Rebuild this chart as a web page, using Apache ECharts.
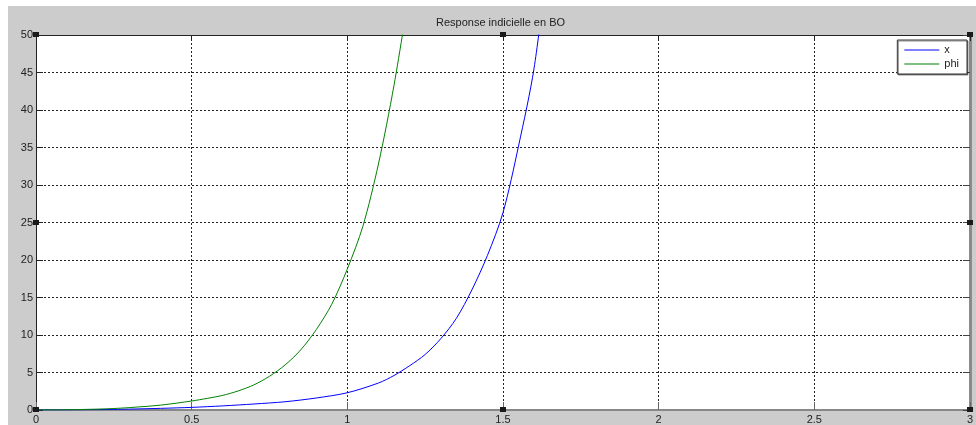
<!DOCTYPE html>
<html>
<head>
<meta charset="utf-8">
<script src="https://cdn.jsdelivr.net/npm/echarts@6/dist/echarts.min.js"></script>
<style>
html,body{margin:0;padding:0;background:#fff;width:976px;height:425px;overflow:hidden;}
#bg{position:absolute;left:8px;top:6px;right:0;bottom:0;background:#cccccc;}
#chart{position:absolute;left:0;top:0;width:976px;height:425px;}
</style>
</head>
<body>
<div id="bg"></div>
<div id="chart"></div>
<script>
// ---- data ----
var titleText = 'Response indicielle en BO';
var seriesNames = ['x', 'phi'];

var xTimes = [0, 0.1, 0.2, 0.3, 0.4, 0.5, 0.6, 0.7, 0.8, 0.9, 1.0, 1.1, 1.15, 1.2, 1.25, 1.3, 1.35, 1.4, 1.45, 1.5, 1.55, 1.6, 1.65];
var xValues = [0, 0.01, 0.05, 0.12, 0.22, 0.35, 0.55, 0.8, 1.1, 1.6, 2.3, 3.6, 4.6, 5.9, 7.4, 9.5, 12.2, 16, 20.6, 26.3, 35.2, 45.6, 62];

var phiTimes = [0, 0.1, 0.2, 0.25, 0.3, 0.4, 0.5, 0.55, 0.6, 0.65, 0.7, 0.75, 0.8, 0.85, 0.9, 0.95, 1.0, 1.05, 1.1, 1.15, 1.2];
var phiValues = [0, 0.03, 0.12, 0.2, 0.32, 0.65, 1.2, 1.55, 1.95, 2.55, 3.35, 4.5, 6.0, 8.0, 10.7, 14.1, 18.8, 24.5, 32.8, 43.3, 56];

var xTicks = [0, 0.5, 1, 1.5, 2, 2.5, 3];
var yTicks = [0, 5, 10, 15, 20, 25, 30, 35, 40, 45, 50];

function pairs(ts, vs){ return ts.map(function(t,i){ return [t, vs[i]]; }); }

var FONT = '"Liberation Sans", Arial, Helvetica, sans-serif';
var chart = echarts.init(document.getElementById('chart'), null, {renderer:'canvas'});

var xMin = xTicks[0], xMax = xTicks[xTicks.length-1], xInt = xTicks[1]-xTicks[0];
var yMin = yTicks[0], yMax = yTicks[yTicks.length-1], yInt = yTicks[1]-yTicks[0];
function fmt(v){ return String(v); }

var option = {
  animation: false,
  backgroundColor: 'transparent',
  title: {
    text: titleText, left: 436, top: 17, padding: 0,
    textStyle: {fontFamily: FONT, fontSize: 11, fontWeight: 'normal', color: '#222'}
  },
  legend: {
    orient: 'vertical', right: 9, top: 40,
    padding: [4, 8, 4, 7], itemGap: 2,
    itemWidth: 35, itemHeight: 1, icon: 'rect', itemTextGap: 5,
    backgroundColor: '#fff', borderColor: '#333', borderWidth: 1,
    shadowColor: 'rgba(0,0,0,0.45)', shadowOffsetX: 1, shadowOffsetY: 1, shadowBlur: 0,
    textStyle: {fontFamily: FONT, fontSize: 11, color: '#222', lineHeight: 12},
    data: seriesNames
  },
  grid: {left: 36, top: 35, right: 5, bottom: 15, show: true, backgroundColor: '#fff', borderWidth: 0},
  xAxis: [{
    type: 'value', min: xMin, max: xMax, interval: xInt, position: 'bottom',
    axisLine: {show: true, onZero: false, lineStyle: {color: '#888', width: 2}},
    axisTick: {show: true, inside: true, length: 8, lineStyle: {color: '#666'}},
    axisLabel: {margin: 4, fontFamily: FONT, fontSize: 11, color: '#222', formatter: fmt},
    splitLine: {show: true, lineStyle: {color: '#222', type: [2, 2], width: 1}}
  }, {
    type: 'value', min: xMin, max: xMax, interval: xInt, position: 'top',
    axisLine: {show: true, onZero: false, lineStyle: {color: '#222', width: 1}},
    axisTick: {show: true, inside: true, length: 6, lineStyle: {color: '#222'}},
    axisLabel: {show: false}, splitLine: {show: false}
  }],
  yAxis: [{
    type: 'value', min: yMin, max: yMax, interval: yInt, position: 'left',
    axisLine: {show: true, onZero: false, lineStyle: {color: '#222', width: 1}},
    axisTick: {show: true, inside: true, length: 7, lineStyle: {color: '#222'}},
    axisLabel: {margin: 3, fontFamily: FONT, fontSize: 11, color: '#222', formatter: fmt},
    splitLine: {show: true, lineStyle: {color: '#222', type: [2, 2], width: 1}}
  }, {
    type: 'value', min: yMin, max: yMax, interval: yInt, position: 'right',
    axisLine: {show: true, onZero: false, lineStyle: {color: '#8a8a8a', width: 3}},
    axisTick: {show: true, inside: true, length: 7, lineStyle: {color: '#444'}},
    axisLabel: {show: false}, splitLine: {show: false}
  }],
  series: [{
    name: seriesNames[0], type: 'line', xAxisIndex: 0, yAxisIndex: 0,
    data: pairs(xTimes, xValues), showSymbol: false, symbol: 'none',
    smooth: 0.3, clip: true,
    lineStyle: {color: '#0000ff', width: 1}, itemStyle: {color: '#0000ff'}
  }, {
    name: seriesNames[1], type: 'line', xAxisIndex: 0, yAxisIndex: 0,
    data: pairs(phiTimes, phiValues), showSymbol: false, symbol: 'none',
    smooth: 0.3, clip: true,
    lineStyle: {color: '#008000', width: 1}, itemStyle: {color: '#008000'}
  }]
};
chart.setOption(option);

// selection handles at corners / mid-edges of the axes box
var xMid = (xMin + xMax) / 2, yMid = (yMin + yMax) / 2;
var handlePts = [[xMin,yMax],[xMid,yMax],[xMax,yMax],[xMin,yMid],[xMax,yMid],[xMin,yMin],[xMid,yMin],[xMax,yMin]];
var handles = handlePts.map(function(p){
  var px = chart.convertToPixel({xAxisIndex:0, yAxisIndex:0}, p);
  return {type:'rect', shape:{x: Math.round(px[0])-3, y: Math.round(px[1])-3, width:6, height:5},
          style:{fill:'#1a1a1a'}, z: 100};
});
chart.setOption({graphic: handles});
</script>
</body>
</html>
